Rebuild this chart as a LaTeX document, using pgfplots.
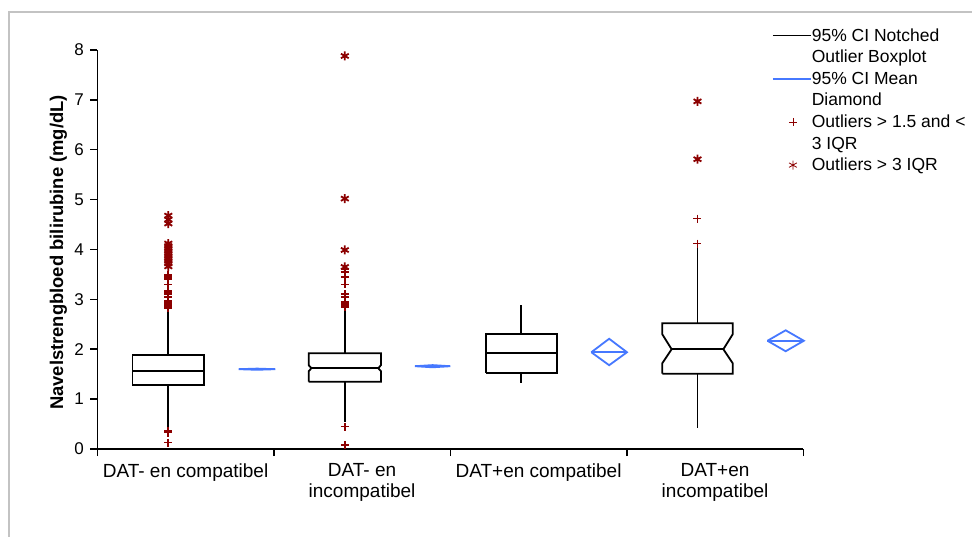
\documentclass[border=0pt]{standalone}
\usepackage{pgfplots}
\pgfplotsset{compat=1.18}
\usepackage{fontspec}
\setmainfont{Liberation Sans}
\definecolor{outred}{RGB}{140,0,0}
\definecolor{diablue}{RGB}{70,120,255}
\definecolor{framegray}{RGB}{195,195,195}
\pgfplotsset{
  lineleg/.style={legend image code/.code={\draw[##1] (0pt,5.5pt) -- (38pt,5.5pt);}},
  markleg/.style={legend image code/.code={\draw[##1, only marks] plot coordinates {(20pt,5.5pt)};}},
}
\begin{document}
\begin{tikzpicture}[x=1pt,y=1pt]
\useasboundingbox (0,0) rectangle (972,536);
\fill[white] (0,0) rectangle (972,536);
\draw[framegray, line width=1.5pt] (9,-10) -- (9,524) -- (990,524);
\begin{axis}[
  at={(97.3pt,87pt)}, anchor=south west,
  scale only axis, width=706pt, height=399pt,
  xmin=0, xmax=4, ymin=0, ymax=8,
  axis x line*=bottom, axis y line*=left,
  axis line style={-, line width=1.5pt, black},
  xtick={0,1,2,3,4}, xticklabels={},
  ytick={0,1,2,3,4,5,6,7,8},
  tick style={black, line width=1.5pt},
  major tick length=7pt,
  tick align=outside,
  /pgf/number format/assume math mode=true,
  yticklabel style={font=\fontsize{17}{20}\selectfont, xshift=-3pt},
  extra x ticks={0.5,1.5,2.5,3.5},
  extra x tick labels={DAT- en compatibel, {DAT- en\\incompatibel}, DAT+en compatibel, {DAT+en\\incompatibel}},
  extra x tick style={major tick length=0pt, tick label style={align=center, font=\fontsize{19}{21}\selectfont, yshift=-11pt}},
  ylabel={Navelstrengbloed bilirubine (mg/dL)},
  ylabel style={at={(axis description cs:-0.055,0.4925)}, anchor=center, font=\fontsize{18.4}{20}\selectfont\bfseries},
  clip=false,
  legend style={at={(axis description cs:0.9557,1.0576)}, anchor=north west, draw=none, fill=none,
    inner sep=0pt, outer sep=0pt, font=\fontsize{17.5}{21}\selectfont, row sep=0pt,
    nodes={text height=14pt, text depth=7.6pt, inner sep=0pt},
    cells={anchor=base west}, /tikz/every even column/.append style={column sep=3pt}},
]
% legend
\addlegendimage{black, line width=1.8pt, lineleg}
\addlegendentry{95\% CI Notched}
\addlegendimage{empty legend}
\addlegendentry{Outlier Boxplot}
\addlegendimage{diablue, line width=1.8pt, lineleg}
\addlegendentry{95\% CI Mean}
\addlegendimage{empty legend}
\addlegendentry{Diamond}
\addlegendimage{outred, mark=+, mark size=4pt, line width=0.8pt, markleg}
\addlegendentry{Outliers > 1.5 and <}
\addlegendimage{empty legend}
\addlegendentry{3 IQR}
\addlegendimage{outred, mark=asterisk, mark size=4.5pt, line width=0.8pt, markleg}
\addlegendentry{Outliers > 3 IQR}

% ---------- boxes ----------
\pgfplotsset{boxst/.style={black, line width=1.8pt, line join=miter, forget plot}}
% cat 1
\addplot[boxst] coordinates {(0.199,1.29) (0.606,1.29) (0.606,1.88) (0.199,1.88) (0.199,1.29)};
\addplot[boxst] coordinates {(0.199,1.57) (0.606,1.57)};
\addplot[boxst] coordinates {(0.4025,1.88) (0.4025,2.79)};
\addplot[boxst] coordinates {(0.4025,1.29) (0.4025,0.42)};
% cat 2 (slight notch)
\addplot[boxst] coordinates {(1.198,1.35) (1.607,1.35) (1.607,1.56) (1.592,1.62) (1.607,1.68) (1.607,1.92) (1.198,1.92) (1.198,1.68) (1.213,1.62) (1.198,1.56) (1.198,1.35)};
\addplot[boxst] coordinates {(1.213,1.62) (1.592,1.62)};
\addplot[boxst] coordinates {(1.4025,1.92) (1.4025,2.79)};
\addplot[boxst] coordinates {(1.4025,1.35) (1.4025,0.55)};
% cat 3
\addplot[boxst] coordinates {(2.2006,1.52) (2.6045,1.52) (2.6045,2.30) (2.2006,2.30) (2.2006,1.52)};
\addplot[boxst] coordinates {(2.2006,1.92) (2.6045,1.92)};
\addplot[boxst] coordinates {(2.4025,2.30) (2.4025,2.89)};
\addplot[boxst] coordinates {(2.4025,1.52) (2.4025,1.32)};
% cat 4 (notched)
\addplot[boxst] coordinates {(3.201,1.51) (3.600,1.51) (3.600,1.72) (3.547,2.00) (3.600,2.30) (3.600,2.52) (3.201,2.52) (3.201,2.30) (3.254,2.00) (3.201,1.72) (3.201,1.51)};
\addplot[boxst] coordinates {(3.254,2.00) (3.547,2.00)};
\addplot[boxst] coordinates {(3.4005,2.52) (3.4005,4.08)};
\addplot[boxst] coordinates {(3.4005,1.51) (3.4005,0.43)};

% ---------- mean diamonds ----------
\pgfplotsset{diast/.style={diablue, line width=1.8pt, line join=miter, forget plot}}
\addplot[diast] coordinates {(0.801,1.60) (0.905,1.612) (1.009,1.60) (0.905,1.588) (0.801,1.60)};
\addplot[diast] coordinates {(0.801,1.60) (1.009,1.60)};
\addplot[diast] coordinates {(1.800,1.66) (1.900,1.682) (2.000,1.66) (1.900,1.638) (1.800,1.66)};
\addplot[diast] coordinates {(1.800,1.66) (2.000,1.66)};
\addplot[diast] coordinates {(2.799,1.94) (2.900,2.21) (3.001,1.94) (2.900,1.68) (2.799,1.94)};
\addplot[diast] coordinates {(2.799,1.94) (3.001,1.94)};
\addplot[diast] coordinates {(3.797,2.17) (3.900,2.38) (4.003,2.17) (3.900,1.96) (3.797,2.17)};
\addplot[diast] coordinates {(3.797,2.17) (4.003,2.17)};

% ---------- outliers > 1.5 and < 3 IQR ----------
\addplot[only marks, outred, mark=+, mark size=4pt, mark options={line width=1.8pt}, forget plot] coordinates {
 (0.4025,0.13) (0.4025,0.33) (0.4025,0.35) (0.4025,0.37)
 (0.4025,2.82) (0.4025,2.85) (0.4025,2.88) (0.4025,2.91) (0.4025,2.94) (0.4025,2.97)
 (0.4025,3.05) (0.4025,3.10) (0.4025,3.13) (0.4025,3.16) (0.4025,3.30)
 (0.4025,3.40) (0.4025,3.43) (0.4025,3.46) (0.4025,3.49)
 (1.4025,0.08) (1.4025,0.45)
 (1.4025,2.85) (1.4025,2.88) (1.4025,2.91) (1.4025,2.94) (1.4025,3.05) (1.4025,3.10)
 (1.4025,3.30) (1.4025,3.45) (1.4025,3.55) (1.4025,3.60)
 (3.4005,4.12) (3.4005,4.62)
};
% ---------- outliers > 3 IQR ----------
\addplot[only marks, outred, mark=asterisk, mark size=4.5pt, mark options={line width=1.8pt}, forget plot] coordinates {
 (0.4025,3.66) (0.4025,3.72) (0.4025,3.77) (0.4025,3.82) (0.4025,3.87) (0.4025,3.92)
 (0.4025,3.97) (0.4025,4.02) (0.4025,4.07) (0.4025,4.12)
 (0.4025,4.52) (0.4025,4.60) (0.4025,4.68)
 (1.4025,3.65) (1.4025,3.99) (1.4025,5.02) (1.4025,7.88)
 (3.4005,5.81) (3.4005,6.97)
};
\end{axis}
\end{tikzpicture}
\end{document}
